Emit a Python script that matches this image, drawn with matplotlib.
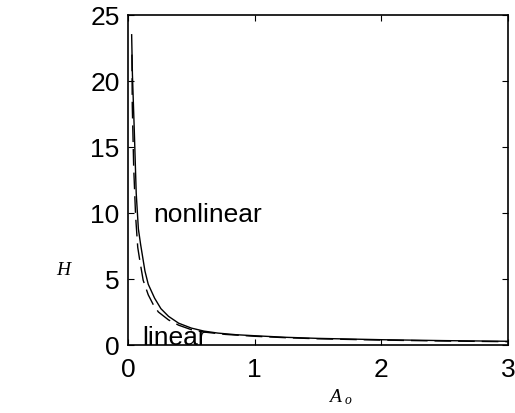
import matplotlib
matplotlib.use('Agg')
import matplotlib.pyplot as plt

# Нелинейная модель (сплошная линия)
a_nonlin = [0.029, 0.035, 0.05, 0.065, 0.082, 0.1, 0.134, 0.16, 0.21, 0.26, 0.32,
            0.4, 0.5, 0.6, 0.71, 0.85, 1.0, 1.25, 1.5, 2.0, 2.5, 3.0]
h_nonlin = [23.5, 20.5, 16.2, 11.5, 8.8, 7.6, 5.6, 4.6, 3.55, 2.75, 2.17,
            1.65, 1.28, 1.05, 0.9, 0.78, 0.7, 0.58, 0.5, 0.4, 0.33, 0.28]

# Линейная модель (штриховая линия)
a_lin = [0.031, 0.034, 0.045, 0.06, 0.077, 0.095, 0.12, 0.16, 0.2, 0.24, 0.32,
         0.4, 0.5, 0.6, 0.77, 1.0, 1.25, 1.5, 2.0, 2.5, 3.0]
h_lin = [22.0, 18.1, 13.5, 9.8, 7.4, 6.3, 4.9, 3.8, 3.05, 2.5, 1.9,
         1.5, 1.16, 0.98, 0.8, 0.66, 0.55, 0.47, 0.37, 0.3, 0.25]

x_ticks = [0, 1, 2, 3]
y_ticks = [0, 5, 10, 15, 20, 25]

plt.rcParams['font.family'] = ['Liberation Sans', 'DejaVu Sans']
plt.rcParams['mathtext.fontset'] = 'custom'
plt.rcParams['mathtext.it'] = 'Liberation Serif:italic'
plt.rcParams['mathtext.rm'] = 'Liberation Serif'

fig = plt.figure(figsize=(5.15, 4.14), dpi=100)
ax = fig.add_axes([0.2485, 0.1643, 0.7379, 0.7971])

ax.plot(a_nonlin, h_nonlin, color='black', linewidth=1.0)
ax.plot(a_lin, h_lin, color='black', linewidth=1.0, dashes=(12, 5))

ax.text(0.2, 9.9, 'nonlinear', fontsize=19, va='center', ha='left')
ax.text(0.11, 0.1, 'linear', fontsize=19, va='baseline', ha='left')

ax.set_xlim(0, 3)
ax.set_ylim(0, 25)
ax.set_xticks(x_ticks)
ax.set_yticks(y_ticks)
ax.tick_params(direction='in', top=True, right=True, labelsize=19, length=4, width=0.8)
ax.tick_params(axis='x', pad=9)
ax.tick_params(axis='y', pad=6)
for s in ax.spines.values():
    s.set_linewidth(1.2)

ax.set_xlabel(r'$A_{\ o}$', fontsize=14, va='center', ha='center')
ax.set_ylabel(r'$H$', fontsize=14, rotation=0, va='center', ha='center')
ax.xaxis.set_label_coords(0.56, -0.155)
ax.yaxis.set_label_coords(-0.168, 0.23)

fig.savefig('out.png', dpi=100)
plt.close()
